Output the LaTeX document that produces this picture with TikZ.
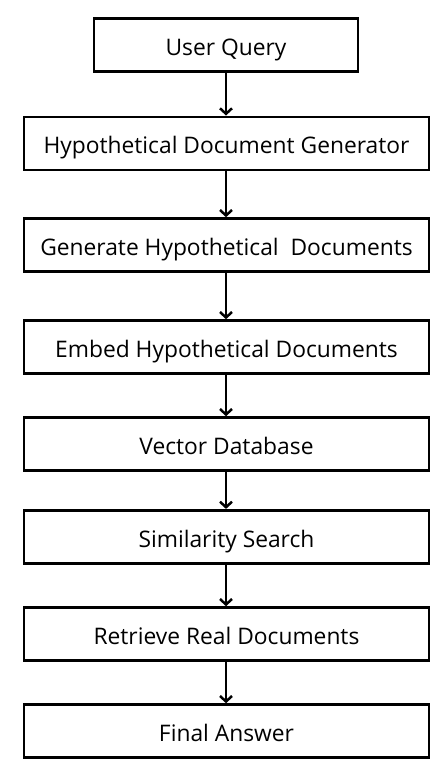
\documentclass[tikz,border=0pt]{standalone}
\usepackage{fontspec}
\setmainfont{Open Sans}
\usetikzlibrary{arrows.meta}
\begin{document}
\begin{tikzpicture}[x=1pt,y=-1pt,
  stepbox/.style={draw=black,line width=2.6pt,fill=white,minimum height=53pt,inner sep=0pt,text height=21pt,text depth=0pt,font=\fontsize{22.8}{26}\selectfont},
  wide/.style={stepbox,minimum width=405pt},
  flow/.style={line width=2.5pt,-{Straight Barb[length=5.5pt,width=12pt,line width=2.5pt]}}]
\useasboundingbox[fill=white] (0,0) rectangle (444,774);
\node[stepbox,minimum width=264pt] (q) at (226,45) {User Query};
\node[wide] (g) at (226.5,143.3) {Hypothetical Document Generator};
\node[wide] (h) at (226.5,245) {Generate Hypothetical\ \ Documents};
\node[wide] (e) at (226.5,347) {Embed Hypothetical Documents};
\node[wide] (v) at (226.5,444) {Vector Database};
\node[wide] (s) at (226.5,536.7) {Similarity Search};
\node[wide] (r) at (226.5,634) {Retrieve Real Documents};
\node[wide] (f) at (226.5,731) {Final Answer};
\foreach \a/\b in {q/g,g/h,h/e,e/v,v/s,s/r,r/f}
  \draw[flow] (\a.south -| 226,0) -- (\b.north -| 226,0);
\end{tikzpicture}
\end{document}
